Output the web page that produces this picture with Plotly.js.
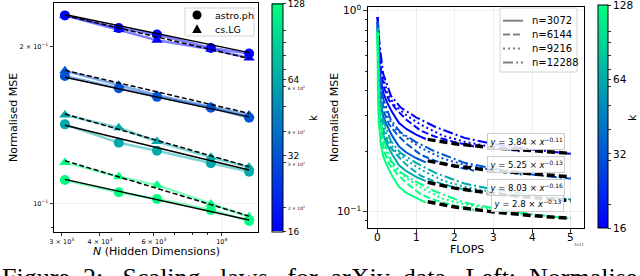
<!DOCTYPE html>
<html><head><meta charset="utf-8">
<script src="https://cdn.plot.ly/plotly-3.0.1.min.js"></script>
<style>html,body{margin:0;padding:0;background:#fff;overflow:hidden}#chart{width:640px;height:276px}</style>
</head><body><div id="chart"></div>
<script>
// ---------- data: left panel ----------
const hiddenDims = [3072, 4608, 6144, 9216, 12288];
const kValues = [16, 32, 64, 128];
const astroK16  = [0.230, 0.2174, 0.2113, 0.199, 0.1943];
const astroK32  = [0.1758, 0.1665, 0.1603, 0.1527, 0.1461];
const astroK64  = [0.1419, 0.1308, 0.1262, 0.1194, 0.1150];
const astroK128 = [0.1109, 0.1050, 0.1019, 0.0971, 0.0925];
const csK16  = [0.230, 0.2160, 0.206, 0.198, 0.1905];
const csK32  = [0.1799, 0.1688, 0.1615, 0.1534, 0.1479];
const csK64  = [0.1479, 0.1398, 0.1315, 0.1226, 0.1173];
const csK128 = [0.1199, 0.1125, 0.1084, 0.0997, 0.0942];
const fitDims = [3072, 12288];
const astroFitK16 = [0.231, 0.195], csFitK16 = [0.230, 0.190];
const astroFitK32 = [0.1748, 0.1467], csFitK32 = [0.1803, 0.1490];
const astroFitK64 = [0.1414, 0.1159], csFitK64 = [0.1486, 0.1176];
const astroFitK128 = [0.1112, 0.0929], csFitK128 = [0.1208, 0.0945];

// ---------- data: right panel (FLOPS in units of 1e11) ----------
const nSizes = [3072, 6144, 9216, 12288];
const flops3072  = [0.003, 0.013, 0.04, 0.09, 0.15, 0.25, 0.38, 0.56, 0.75, 1.0, 1.25];
const flops6144  = [0.005, 0.025, 0.075, 0.175, 0.3, 0.5, 0.75, 1.12, 1.5, 2.0, 2.5];
const flops9216  = [0.008, 0.038, 0.11, 0.26, 0.45, 0.75, 1.12, 1.69, 2.25, 3.0, 3.75];
const flops12288 = [0.01, 0.05, 0.15, 0.35, 0.6, 1.0, 1.5, 2.25, 3.0, 4.0, 5.0];
const mseK16n3072  = [0.93, 0.83, 0.575, 0.449, 0.391, 0.350, 0.313, 0.276, 0.258, 0.242, 0.230];
const mseK16n6144  = [0.93, 0.76, 0.528, 0.411, 0.359, 0.321, 0.287, 0.253, 0.236, 0.222, 0.211];
const mseK16n9216  = [0.93, 0.72, 0.498, 0.388, 0.338, 0.302, 0.271, 0.239, 0.223, 0.209, 0.199];
const mseK16n12288 = [0.93, 0.70, 0.485, 0.378, 0.330, 0.295, 0.264, 0.233, 0.217, 0.204, 0.194];
const mseK32n3072  = [0.88, 0.63, 0.44, 0.343, 0.299, 0.268, 0.239, 0.211, 0.197, 0.185, 0.176];
const mseK32n6144  = [0.88, 0.58, 0.40, 0.312, 0.272, 0.243, 0.218, 0.192, 0.179, 0.168, 0.160];
const mseK32n9216  = [0.88, 0.55, 0.383, 0.298, 0.260, 0.233, 0.208, 0.184, 0.171, 0.161, 0.153];
const mseK32n12288 = [0.88, 0.53, 0.365, 0.285, 0.248, 0.222, 0.199, 0.175, 0.164, 0.153, 0.146];
const mseK64n3072  = [0.82, 0.51, 0.355, 0.277, 0.241, 0.216, 0.193, 0.170, 0.159, 0.149, 0.142];
const mseK64n6144  = [0.82, 0.45, 0.315, 0.246, 0.214, 0.192, 0.171, 0.151, 0.141, 0.132, 0.126];
const mseK64n9216  = [0.82, 0.43, 0.298, 0.232, 0.202, 0.181, 0.162, 0.143, 0.133, 0.125, 0.119];
const mseK64n12288 = [0.82, 0.41, 0.288, 0.224, 0.196, 0.175, 0.156, 0.138, 0.129, 0.121, 0.115];
const mseK128n3072  = [0.78, 0.40, 0.278, 0.216, 0.189, 0.169, 0.151, 0.133, 0.124, 0.117, 0.111];
const mseK128n6144  = [0.78, 0.37, 0.255, 0.199, 0.173, 0.155, 0.139, 0.122, 0.114, 0.107, 0.102];
const mseK128n9216  = [0.78, 0.35, 0.243, 0.189, 0.165, 0.147, 0.132, 0.116, 0.109, 0.102, 0.097];
const mseK128n12288 = [0.78, 0.33, 0.231, 0.180, 0.157, 0.141, 0.126, 0.111, 0.104, 0.097, 0.0925];
const fitFlops = [1.3, 2, 3, 4, 5];
const flopsFitK16  = [0.229, 0.218, 0.208, 0.201, 0.195];
const flopsFitK32  = [0.179, 0.169, 0.160, 0.154, 0.149];
const flopsFitK64  = [0.140, 0.131, 0.123, 0.1175, 0.1135];
const flopsFitK128 = [0.112, 0.1055, 0.0997, 0.0956, 0.0927];
const flopsTicks = [0, 1, 2, 3, 4, 5];
const fitLabels = ['<i>y</i> = 3.84 × <i>x</i><sup>−0.11</sup>', '<i>y</i> = 5.25 × <i>x</i><sup>−0.13</sup>',
                   '<i>y</i> = 8.03 × <i>x</i><sup>−0.16</sup>', '<i>y</i> = 2.8 × <i>x</i><sup>−0.13</sup>'];
const nLabels = ['n=3072', 'n=6144', 'n=9216', 'n=12288'];
const datasetLabels = ['astro.ph', 'cs.LG'];
const cbTickK = [16, 20, 30, 32, 40, 50, 60, 64, 70, 80, 90, 100, 128];

// ---------- styling ----------
const W = 640, H = 276;
const px = x => x / W, py = y => 1 - y / H;
const FONT = 'DejaVu Sans';
const winter = [[0, 'rgb(0,0,255)'], [1, 'rgb(0,255,128)']];
const kColor = k => { const t = (Math.log2(k) - 4) / 3; return `rgb(0,${Math.round(255 * t)},${Math.round(255 - 127 * t)})`; };
const cmin = 4, cmax = 7;

const astro = [astroK16, astroK32, astroK64, astroK128];
const cs = [csK16, csK32, csK64, csK128];
const astroFit = [astroFitK16, astroFitK32, astroFitK64, astroFitK128];
const csFit = [csFitK16, csFitK32, csFitK64, csFitK128];
const flopsByN = [flops3072, flops6144, flops9216, flops12288];
const mse = [[mseK16n3072, mseK16n6144, mseK16n9216, mseK16n12288],
             [mseK32n3072, mseK32n6144, mseK32n9216, mseK32n12288],
             [mseK64n3072, mseK64n6144, mseK64n9216, mseK64n12288],
             [mseK128n3072, mseK128n6144, mseK128n9216, mseK128n12288]];
const flopsFit = [flopsFitK16, flopsFitK32, flopsFitK64, flopsFitK128];
const nDash = ['solid', '7px,3px', '2px,3px', '10px,3px,2px,3px'];

const tickSmall = v => {
  const m = {20: '2', 30: '3', 40: '4', 60: '6'};
  return m[v] ? `<span style="font-size:4.5px">${m[v]} × 10<sup>1</sup></span>` : '';
};

function cbar(xPix, top, bot, thick, fontSize, minorLabels) {
  return {
    x: px(xPix), xanchor: 'left', xref: 'paper', xpad: 0,
    y: py((top + bot) / 2), yanchor: 'middle', yref: 'paper', ypad: 0,
    len: (bot - top) / H, lenmode: 'fraction', thickness: thick, thicknessmode: 'pixels',
    outlinewidth: 1, outlinecolor: 'black', ticklabeloverflow: 'allow',
    tickmode: 'array', tickvals: cbTickK.map(v => Math.min(Math.log2(v), 6.9995)),
    ticktext: cbTickK.map(v => [16, 32, 64, 128].includes(v) ? String(v) : (minorLabels ? tickSmall(v) : '')),
    ticks: 'outside', ticklen: 3, tickwidth: 0.8, tickcolor: 'black',
    tickfont: {family: FONT, size: fontSize, color: 'black'}, title: {text: ''}
  };
}

const traces = [];
// left: colored connecting lines
kValues.forEach((k, i) => {
  [astro[i], cs[i]].forEach(ys => traces.push({
    x: hiddenDims, y: ys, mode: 'lines', xaxis: 'x', yaxis: 'y', showlegend: false,
    line: {color: kColor(k), width: 2.5}, opacity: 0.5, hoverinfo: 'skip'
  }));
});
// left: markers
kValues.forEach((k, i) => {
  traces.push({
    x: hiddenDims, y: astro[i], mode: 'markers', xaxis: 'x', yaxis: 'y', showlegend: false,
    marker: {symbol: 'circle', size: 10, color: hiddenDims.map(() => Math.log2(k)), colorscale: winter, cmin, cmax,
             showscale: i === 0, colorbar: cbar(271.7, 3.3, 231.7, 11, 9, true), line: {width: 0}}
  });
  traces.push({
    x: hiddenDims, y: cs[i], mode: 'markers', xaxis: 'x', yaxis: 'y', showlegend: false,
    marker: {symbol: 'triangle-up', size: 10, color: hiddenDims.map(() => Math.log2(k)), colorscale: winter, cmin, cmax, line: {width: 0}}
  });
});
// left: fits
kValues.forEach((k, i) => {
  traces.push({x: fitDims, y: astroFit[i], mode: 'lines', xaxis: 'x', yaxis: 'y', showlegend: false,
               line: {color: 'black', width: 1.5}});
  traces.push({x: fitDims, y: csFit[i], mode: 'lines', xaxis: 'x', yaxis: 'y', showlegend: false,
               line: {color: 'black', width: 1.5, dash: '5px,2.5px'}});
});
// right: training curves
kValues.forEach((k, i) => {
  nSizes.forEach((n, j) => traces.push({
    x: flopsByN[j], y: mse[i][j], mode: 'lines', xaxis: 'x2', yaxis: 'y2', showlegend: false,
    line: {color: kColor(k), width: 2, dash: nDash[j]}
  }));
});
// right: fits
kValues.forEach((k, i) => traces.push({
  x: fitFlops, y: flopsFit[i], mode: 'lines', xaxis: 'x2', yaxis: 'y2', showlegend: false,
  line: {color: 'black', width: 3.5, dash: '8px,4px'}
}));
// right colorbar host (transparent markers at curve ends)
traces.push({
  x: kValues.map(() => flops12288[flops12288.length - 1]), y: mse.map(r => r[3][r[3].length - 1]),
  mode: 'markers', xaxis: 'x2', yaxis: 'y2', showlegend: false,
  marker: {size: 1, opacity: 0, color: kValues.map(k => Math.log2(k)), colorscale: winter, cmin, cmax, showscale: true,
           colorbar: cbar(598, 5, 228.3, 10, 10.5, false)}
});

const axBase = {showline: true, mirror: true, linecolor: 'black', linewidth: 1, zeroline: false,
                ticks: 'outside', tickcolor: 'black', ticklen: 3.5, tickwidth: 0.8, fixedrange: true};

const layout = {
  width: W, height: H, margin: {l: 0, r: 0, t: 0, b: 0}, paper_bgcolor: 'white', plot_bgcolor: 'white',
  font: {family: FONT, color: 'black'}, showlegend: false,
  xaxis: Object.assign({}, axBase, {
    domain: [px(54), px(258)], anchor: 'y', type: 'log', range: [Math.log10(2830), Math.log10(13140)],
    tickmode: 'array', tickvals: [3000, 4000, 6000, 10000],
    ticktext: ['3 × 10<sup>3</sup>', '4 × 10<sup>3</sup>', '6 × 10<sup>3</sup>', '10<sup>4</sup>'],
    tickfont: {size: 6.5}, showgrid: false,
    minor: {tickmode: 'array', tickvals: [5000, 7000, 8000, 9000], ticks: 'outside', ticklen: 2, tickcolor: 'black', showgrid: false}
  }),
  yaxis: Object.assign({}, axBase, {
    domain: [py(231.7), py(3.3)], anchor: 'x', type: 'log', range: [-1.0546, -0.615],
    tickmode: 'array', tickvals: [0.1, 0.2], ticktext: ['10<sup>−1</sup>', '2 × 10<sup>−1</sup>'],
    tickfont: {size: 6.5}, showgrid: false,
    minor: {tickmode: 'array', tickvals: [0.09], ticks: 'outside', ticklen: 2, tickcolor: 'black', showgrid: false}
  }),
  xaxis2: Object.assign({}, axBase, {
    domain: [px(367.7), px(584)], anchor: 'y2', range: [-0.25, 5.34],
    tickmode: 'array', tickvals: flopsTicks, showticklabels: false,
    showgrid: true, gridcolor: '#ebebeb', gridwidth: 0.8
  }),
  yaxis2: Object.assign({}, axBase, {
    domain: [py(228.3), py(6.7)], anchor: 'x2', type: 'log', range: [-1.0826, 0.02],
    tickmode: 'array', tickvals: [0.1, 1], ticktext: ['10<sup>−1</sup>', '10<sup>0</sup>'], tickfont: {size: 10.5},
    showgrid: true, gridcolor: '#ebebeb', gridwidth: 0.8,
    minor: {tickmode: 'array', tickvals: [0.09, 0.2, 0.3, 0.4, 0.5, 0.6, 0.7, 0.8, 0.9], ticks: 'outside', ticklen: 2, tickcolor: 'black', showgrid: false}
  }),
  shapes: [
    {type: 'line', xref: 'x', yref: 'y domain', x0: 10000, x1: 10000, y0: 0, y1: 1, line: {color: '#ebebeb', width: 0.8}, layer: 'below'},
    {type: 'line', xref: 'x domain', yref: 'y', x0: 0, x1: 1, y0: 0.1, y1: 0.1, line: {color: '#ebebeb', width: 0.8}, layer: 'below'},
    // left legend
    {type: 'rect', xref: 'paper', yref: 'paper', x0: px(185), x1: px(254), y0: py(36), y1: py(8),
     fillcolor: 'rgba(255,255,255,0.85)', line: {color: '#d4d4d4', width: 1}},
    {type: 'circle', xref: 'paper', yref: 'paper', x0: px(192.5), x1: px(201.5), y0: py(19.5), y1: py(10.5),
     fillcolor: 'black', line: {width: 0}},
    {type: 'path', xref: 'paper', yref: 'paper',
     path: `M${px(197)},${py(24.3)} L${px(192.2)},${py(33)} L${px(201.8)},${py(33)} Z`, fillcolor: 'black', line: {width: 0}},
    // right legend
    {type: 'rect', xref: 'paper', yref: 'paper', x0: px(500), x1: px(577), y0: py(72), y1: py(8),
     fillcolor: 'rgba(255,255,255,0.85)', line: {color: '#d4d4d4', width: 1}}
  ].concat(nLabels.map((t, j) => ({
    type: 'line', xref: 'paper', yref: 'paper', x0: px(503), x1: px(523), y0: py(20.7 + 13.9 * j), y1: py(20.7 + 13.9 * j),
    line: {color: '#808080', width: 2, dash: nDash[j]}
  }))),
  annotations: [
    {text: 'Normalised MSE', x: px(13), y: py(118), textangle: -90, font: {size: 11}},
    {text: '<i>N</i> (Hidden Dimensions)', x: px(156), y: py(251), font: {size: 11}},
    {text: 'Normalised MSE', x: px(334), y: py(118), textangle: -90, font: {size: 11}},
    {text: 'FLOPS', x: px(467), y: py(249), font: {size: 11}},
    {text: 'k', x: px(313), y: py(118), textangle: -90, font: {size: 10}},
    {text: 'k', x: px(632), y: py(118), textangle: -90, font: {size: 11}},
    {text: '1e11', x: px(579), y: py(244), font: {size: 4, color: '#555'}},
    {text: datasetLabels[0], x: px(213), y: py(15), xanchor: 'left', font: {size: 9.5}},
    {text: datasetLabels[1], x: px(213), y: py(29), xanchor: 'left', font: {size: 9.5}},
    {text: 'Figure\u00a0\u00a02:\u00a0\u00a0\u00a0Scaling\u00a0\u00a0\u00a0laws\u00a0\u00a0\u00a0for\u00a0\u00a0arXiv\u00a0\u00a0data.\u00a0\u00a0Left:\u00a0\u00a0Normalised\u00a0\u00a0MSE',
     x: 0, y: py(261), xanchor: 'left', yanchor: 'top', font: {family: 'Liberation Serif', size: 26}}
  ].concat(nLabels.map((t, j) => ({text: t, x: px(530), y: py(20.7 + 13.9 * j), xanchor: 'left', font: {size: 10}})))
   .concat(flopsTicks.map(v => ({text: String(v), xref: 'x2', x: v, y: py(236.5), font: {size: 10.5}})))
   .concat(fitLabels.map((t, i) => ({
     text: t, x: px([526, 526, 526, 527.3][i]), y: py([141.3, 164, 187, 203.3][i]),
     font: {size: 8.5}, bgcolor: 'rgba(255,255,255,0.85)', bordercolor: '#cccccc', borderwidth: 1, borderpad: 1.5
   })))
};
layout.annotations.forEach(a => {
  a.showarrow = false; a.xref = a.xref || 'paper'; a.yref = a.yref || 'paper';
  a.xanchor = a.xanchor || 'center'; a.yanchor = a.yanchor || 'middle';
  a.font = Object.assign({family: FONT, color: 'black'}, a.font);
});

Plotly.newPlot('chart', traces, layout, {staticPlot: true, displayModeBar: false});
</script></body></html>
